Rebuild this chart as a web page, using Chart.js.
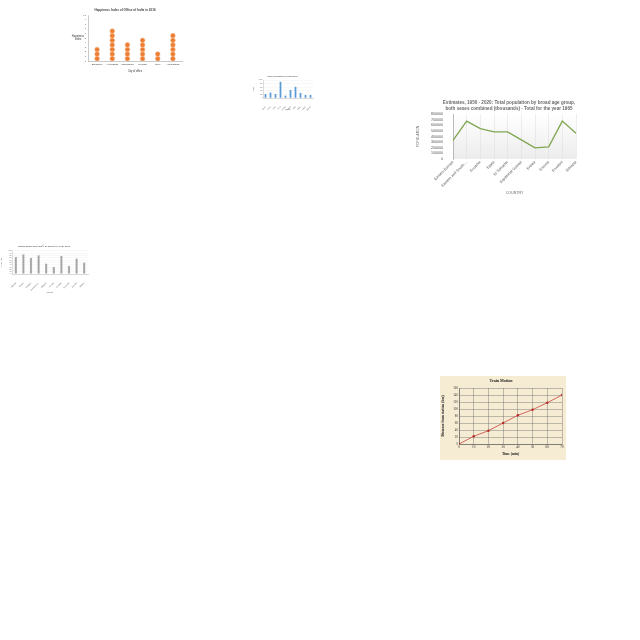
<!DOCTYPE html>
<html>
<head>
<meta charset="utf-8">
<script src="https://cdn.jsdelivr.net/npm/chart.js@4.4.1/dist/chart.umd.min.js"></script>
<style>
html,body{margin:0;padding:0;background:#fff;width:640px;height:640px;overflow:hidden;}
.box{position:absolute;}
canvas{display:block;}
</style>
</head>
<body>
<div class="box" style="left:68px;top:5px;width:124px;height:68px;"><canvas id="c1" width="124" height="68"></canvas></div>
<div class="box" style="left:252px;top:73px;width:66px;height:38px;"><canvas id="c2" width="66" height="38"></canvas></div>
<div class="box" style="left:415px;top:97px;width:172px;height:102px;"><canvas id="c3" width="172" height="102"></canvas></div>
<div class="box" style="left:0px;top:242px;width:94px;height:52px;"><canvas id="c4" width="94" height="52"></canvas></div>
<div class="box" style="left:440px;top:376px;width:126px;height:84px;background:#f6ecd4;"><canvas id="c5" width="126" height="84"></canvas></div>
<script>
// ---------- data ----------
const dotCities = ["Bangalore", "Hyderabad", "Chandigarh", "Mumbai", "Pune", "Ahmedabad"];
const dotCounts = [3, 7, 4, 5, 2, 6];
const dotTicks = [0,1,2,3,4,5,6,7,8,9,10];

const blueLabels = ["North", "South", "East", "West", "Central", "Coastal", "Hills", "Valley", "Plains", "Islands"];
const blueValues = [220, 300, 220, 900, 130, 450, 620, 280, 170, 170];

const popCountries = ["Eastern Europe", "Eastern and South-...", "Ecuador", "Egypt", "El Salvador", "Equatorial Guinea", "Eritrea", "Estonia", "Eswatini", "Ethiopia"];
const popValues = [331000, 674000, 540000, 481000, 481000, 340000, 198000, 216000, 674000, 457000];
const popTicks = [0, 100000, 200000, 300000, 400000, 500000, 600000, 700000, 800000];
const popTitle = ['Estimates, 1950 - 2020: Total population by broad age group,', 'both sexes combined (thousands) - Total for the year 1965'];

const grayLabels = ["Albania", "Austria", "Belgium", "Bosnia-Herz.", "Bulgaria", "Croatia", "Czechia", "Denmark", "Estonia", "Finland"];
const grayValues = [74, 86, 71, 81, 46, 31, 79, 36, 67, 50];

const trainTime = [0, 10, 20, 30, 40, 50, 60, 70];
const trainDist = [0, 22, 38, 60, 82, 98, 118, 140];

Chart.defaults.animation = false;
Chart.defaults.devicePixelRatio = 1;
Chart.defaults.font.family = "Liberation Sans, Arial, sans-serif";
const fitH = h => s => { s.height = h; };
const fitW = w => s => { s.width = w; };

// ---------- chart 1: dot plot ----------
const dotPts = [];
dotCounts.forEach((n, i) => { for (let k = 1; k <= n; k++) dotPts.push({x: i, y: k - 0.5}); });
new Chart(document.getElementById('c1'), {
  type: 'scatter',
  data: { datasets: [{ data: dotPts, pointRadius: 2.35, pointBackgroundColor: '#ed7d31', pointBorderColor: '#f4b183', pointBorderWidth: 0.6 }] },
  options: {
    responsive: false,
    layout: { padding: { left: 0, right: 10, top: 0, bottom: 0 } },
    plugins: {
      legend: { display: false }, tooltip: { enabled: false },
      title: { display: true, text: 'Happiness Index of Office of India in 2016', font: { size: 3.1 }, color: '#444', padding: { top: 3, bottom: 3.3 } }
    },
    scales: {
      x: { type: 'linear', min: -0.6, max: 5.6, afterFit: fitH(12),
        afterBuildTicks: a => { a.ticks = dotCities.map((c, i) => ({ value: i })); },
        ticks: { callback: v => dotCities[v], font: { size: 2.4 }, color: '#333', maxRotation: 0, autoSkip: false, padding: 1.5 },
        grid: { display: false, drawTicks: false }, border: { color: '#a6a6a6', width: 0.6 },
        title: { display: true, text: 'City of office', font: { size: 2.6 }, color: '#333', padding: { top: 0.5, bottom: 0 } } },
      y: { min: 0, max: 10, afterFit: fitW(20),
        afterBuildTicks: a => { a.ticks = dotTicks.map(v => ({ value: v })); },
        ticks: { font: { size: 2.4 }, color: '#555', padding: 1, autoSkip: false },
        grid: { display: false, drawTicks: true, tickLength: 1 }, border: { color: '#a6a6a6', width: 0.6 } }
    }
  },
  plugins: [{
    id: 'ytitle',
    afterDraw(c) {
      const ctx = c.ctx; ctx.save(); ctx.fillStyle = '#333'; ctx.font = '2.6px Liberation Sans, Arial'; ctx.textAlign = 'center';
      const x = 10, y = (c.chartArea.top + c.chartArea.bottom) / 2;
      ctx.fillText('Happiness', x, y - 1); ctx.fillText('Index', x, y + 2.3); ctx.restore();
    }
  }]
});

// ---------- chart 2: blue bars ----------
new Chart(document.getElementById('c2'), {
  type: 'bar',
  data: { labels: blueLabels, datasets: [{ data: blueValues, backgroundColor: '#5b9bd5', barPercentage: 0.35, categoryPercentage: 1 }] },
  options: {
    responsive: false,
    layout: { padding: { left: 0, right: 5, top: 0, bottom: 0 } },
    plugins: { legend: { display: false }, tooltip: { enabled: false },
      title: { display: true, text: 'Sales of product by region 2017', font: { size: 2 }, color: '#666', padding: { top: 2, bottom: 2.6 } } },
    scales: {
      x: { afterFit: fitH(13), ticks: { font: { size: 1.6 }, color: '#555', maxRotation: 45, minRotation: 45, autoSkip: false, padding: 0 },
        grid: { display: false }, border: { color: '#bbb', width: 0.5 },
        title: { display: true, text: 'Region', font: { size: 1.8 }, color: '#666', padding: 0 } },
      y: { min: 0, max: 1000, afterFit: fitW(11), ticks: { stepSize: 200, font: { size: 1.5 }, color: '#666', padding: 0.5, autoSkip: false },
        grid: { color: '#eee', lineWidth: 0.4, drawTicks: false }, border: { color: '#bbb', width: 0.5 },
        title: { display: true, text: 'Sales', font: { size: 1.8 }, color: '#666', padding: 0 } }
    }
  }
});

// ---------- chart 3: population line ----------
new Chart(document.getElementById('c3'), {
  type: 'line',
  data: { labels: popCountries, datasets: [{ data: popValues, borderColor: '#7fa650', borderWidth: 1.3, pointRadius: 0, tension: 0, fill: false }] },
  options: {
    responsive: false,
    layout: { padding: { left: 0, right: 11, top: 17, bottom: 0 } },
    plugins: { legend: { display: false }, tooltip: { enabled: false }, title: { display: false } },
    scales: {
      x: { offset: false, afterFit: fitH(40), ticks: { font: { size: 3.7 }, color: '#555', maxRotation: 45, minRotation: 45, autoSkip: false, padding: 1 },
        grid: { color: '#ddd', lineWidth: 0.5, drawTicks: false }, border: { display: false },
        title: { display: true, text: 'COUNTRY', font: { size: 3.6 }, color: '#666', padding: { top: 2 } } },
      y: { min: 0, max: 800000, afterFit: fitW(38),
        afterBuildTicks: a => { a.ticks = popTicks.map(v => ({ value: v })); },
        ticks: { font: { size: 3.6 }, color: '#555', padding: 2, autoSkip: false, callback: v => String(v) },
        grid: { display: false }, border: { color: '#999', width: 0.6 },
        title: { display: true, text: 'POPULATION', font: { size: 3.4 }, color: '#666', padding: 1 } }
    }
  },
  plugins: [{
    id: 'bg',
    beforeDraw(c) {
      const a = c.chartArea, ctx = c.ctx;
      const g = ctx.createLinearGradient(0, a.top, 0, a.bottom);
      g.addColorStop(0, '#ffffff'); g.addColorStop(1, '#ececec');
      ctx.save(); ctx.fillStyle = g; ctx.fillRect(a.left, a.top, a.right - a.left, a.bottom - a.top); ctx.restore();
    },
    afterDraw(c) {
      const ctx = c.ctx; ctx.save(); ctx.fillStyle = '#6a6a6a'; ctx.font = 'bold 4.6px Liberation Sans, Arial';
      ctx.textAlign = 'center'; ctx.textBaseline = 'middle';
      ctx.fillText(popTitle[0], 94, 6); ctx.fillText(popTitle[1], 94, 12); ctx.restore();
    }
  }]
});

// ---------- chart 4: gray bars ----------
new Chart(document.getElementById('c4'), {
  type: 'bar',
  data: { labels: grayLabels, datasets: [{ data: grayValues, backgroundColor: '#a5a5a5', borderColor: '#8c8c8c', borderWidth: 0.3, barPercentage: 0.32, categoryPercentage: 1 }] },
  options: {
    responsive: false,
    layout: { padding: { left: 0, right: 6, top: 0, bottom: 0 } },
    plugins: { legend: { display: false }, tooltip: { enabled: false },
      title: { display: true, text: 'Inland water area (km²) of EUROPE, year 1990', font: { size: 2.4 }, color: '#666', padding: { top: 2.5, bottom: 3.6 } } },
    scales: {
      x: { afterFit: fitH(20), ticks: { font: { size: 1.9 }, color: '#666', maxRotation: 45, minRotation: 45, autoSkip: false, padding: 0 },
        grid: { display: false }, border: { color: '#bbb', width: 0.5 },
        title: { display: true, text: 'Country', font: { size: 2 }, color: '#666', padding: 0 } },
      y: { min: 0, max: 100, afterFit: fitW(12), ticks: { stepSize: 10, font: { size: 1.8 }, color: '#666', padding: 0.5, autoSkip: false },
        grid: { color: '#eee', lineWidth: 0.4, drawTicks: false }, border: { color: '#bbb', width: 0.5 },
        title: { display: true, text: 'Area (km²)', font: { size: 2 }, color: '#666', padding: 0 } }
    }
  }
});

// ---------- chart 5: train motion ----------
new Chart(document.getElementById('c5'), {
  type: 'line',
  data: { datasets: [{ data: trainTime.map((t, i) => ({ x: t, y: trainDist[i] })), borderColor: '#c9433e', backgroundColor: '#b52a26', borderWidth: 0.8, pointRadius: 1.2, pointBorderWidth: 0, tension: 0 }] },
  options: {
    responsive: false,
    layout: { padding: { left: 0, right: 4, top: 0, bottom: 0 } },
    plugins: { legend: { display: false }, tooltip: { enabled: false },
      title: { display: true, text: 'Train Motion', font: { size: 4, weight: 'bold', family: 'Liberation Serif, serif' }, color: '#222', padding: { top: 3, bottom: 4.2 } } },
    scales: {
      x: { type: 'linear', min: 0, max: 70, afterFit: fitH(16), ticks: { stepSize: 10, font: { size: 3.4, family: 'Liberation Serif, serif' }, color: '#333', padding: 1 },
        grid: { color: '#666', lineWidth: 0.4, drawTicks: false }, border: { color: '#444', width: 0.5 },
        title: { display: true, text: 'Time (min)', font: { size: 3.6, weight: 'bold', family: 'Liberation Serif, serif' }, color: '#222', padding: { top: 1.5 } } },
      y: { min: 0, max: 160, afterFit: fitW(19), ticks: { stepSize: 20, font: { size: 3.2, family: 'Liberation Serif, serif' }, color: '#333', padding: 1, autoSkip: false },
        grid: { color: '#666', lineWidth: 0.4, drawTicks: false }, border: { color: '#444', width: 0.5 },
        title: { display: true, text: 'Distance from station (km)', font: { size: 3.6, weight: 'bold', family: 'Liberation Serif, serif' }, color: '#222', padding: 1 } }
    }
  }
});
</script>
</body>
</html>
